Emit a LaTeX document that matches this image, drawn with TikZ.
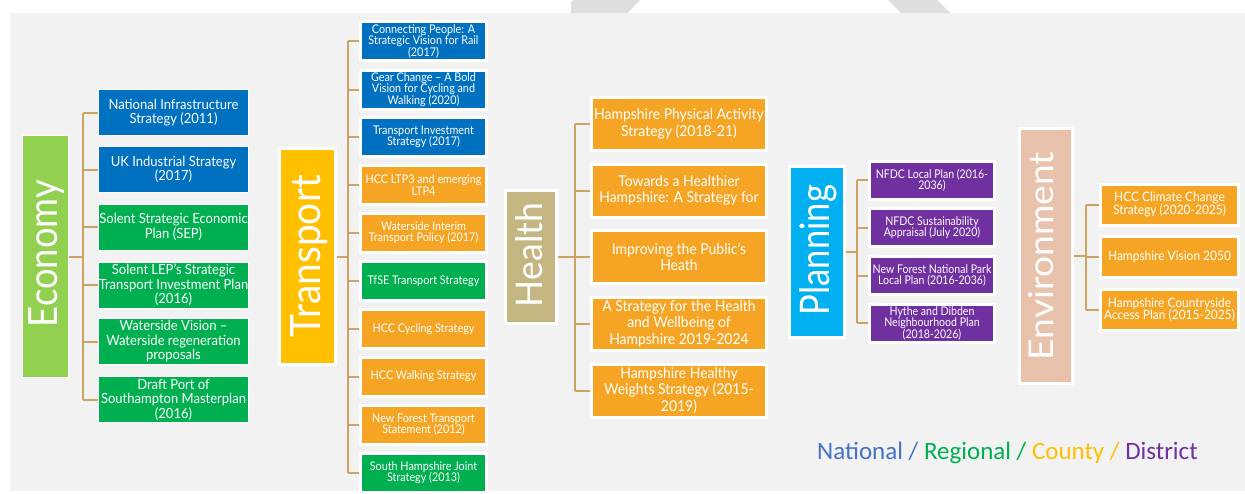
\documentclass[tikz,border=0pt]{standalone}
\usepackage{fontspec}
\setmainfont{Lato}
\newfontfamily\legfont{Carlito}
\newfontfamily\labfont{Lato}
\newfontfamily\fEco[FakeStretch=0.93]{Lato}
\newfontfamily\fTra[FakeStretch=0.9]{Lato}
\newfontfamily\fHea[FakeStretch=0.93]{Lato}
\newfontfamily\fPla[FakeStretch=0.88]{Lato}
\newfontfamily\fEnv[FakeStretch=0.92]{Lato}
\pgfdeclarelayer{back}
\pgfdeclarelayer{lines}
\pgfsetlayers{back,lines,main}
\definecolor{bgc}{RGB}{242,242,242}
\definecolor{markc}{RGB}{222,222,222}
\definecolor{natblue}{RGB}{0,112,192}
\definecolor{reggreen}{RGB}{0,176,80}
\definecolor{cntorange}{RGB}{245,165,35}
\definecolor{dispurple}{RGB}{112,48,160}
\definecolor{ecogreen}{RGB}{146,208,80}
\definecolor{trayellow}{RGB}{255,192,0}
\definecolor{heakhaki}{RGB}{196,182,128}
\definecolor{placyan}{RGB}{0,176,240}
\definecolor{envpeach}{RGB}{233,194,172}
\definecolor{connc}{RGB}{206,163,98}
\definecolor{legblue}{RGB}{68,114,196}
\definecolor{legyellow}{RGB}{255,192,0}
\tikzset{
  conn/.style={draw=connc, line width=2pt},
  labbox/.style={draw=white, line width=3pt, inner sep=0pt},
  ecolab/.style={draw=white, line width=1pt, inner sep=0pt},
  labtext/.style={text=white, inner sep=0pt, rotate=90, anchor=base, font=\labfont},
  ebox/.style={draw=white, line width=1pt, text=white, align=center, inner sep=0pt,
    minimum width=150pt, minimum height=46pt, font=\fEco\fontsize{14}{14.5}\selectfont},
  tbox/.style={draw=white, line width=3pt, text=white, align=center, inner sep=0pt,
    minimum width=126pt, minimum height=39pt, font=\fTra\fontsize{12}{11.5}\selectfont},
  hbox/.style={draw=white, line width=3pt, text=white, align=center, inner sep=0pt, fill=cntorange,
    minimum width=175pt, minimum height=53pt, font=\fHea\fontsize{15}{16.5}\selectfont},
  pbox/.style={draw=white, line width=3pt, text=white, align=center, inner sep=0pt, fill=dispurple,
    minimum width=125pt, minimum height=38pt, font=\fPla\fontsize{12}{11.5}\selectfont},
  vbox/.style={draw=white, line width=3pt, text=white, align=center, inner sep=0pt, fill=cntorange,
    minimum width=138pt, minimum height=41pt, font=\fEnv\fontsize{13}{12.5}\selectfont},
}
\begin{document}
\begin{tikzpicture}[x=1pt,y=-1pt]
\begin{pgfonlayer}{back}
\fill[white] (0,0) rectangle (1245,491);
\fill[bgc] (10,13) rectangle (1245,491);
\fill[markc, rounded corners=3pt] (571,13) -- (571,0) [sharp corners] -- (640,0) -- (627.5,13) -- cycle;
\fill[markc] (888,0) -- (937,0) -- (950,13) -- (901,13) -- cycle;
\end{pgfonlayer}

% Economy
\node[ecolab, fill=ecogreen, minimum width=46pt, minimum height=242pt] (econ) at (45.5,256.5) {};
\node[labtext] (econt) at (57,253.5) {\resizebox{147pt}{29pt}{Economy}};
\node[ebox, fill=natblue] (e1) at (173.5,112.5) {National Infrastructure\\Strategy (2011)};
\node[ebox, fill=natblue] (e2) at (173.5,169.5) {UK Industrial Strategy\\(2017)};
\node[ebox, fill=reggreen] (e3) at (173.5,227) {Solent Strategic Economic\\Plan (SEP)};
\node[ebox, fill=reggreen] (e4) at (173.5,285) {Solent LEP’s Strategic\\Transport Investment Plan\\(2016)};
\node[ebox, fill=reggreen] (e5) at (173.5,341.5) {Waterside Vision –\\Waterside regeneration\\proposals};
\node[ebox, fill=reggreen] (e6) at (173.5,399.5) {Draft Port of\\Southampton Masterplan\\(2016)};

% Transport
\node[labbox, fill=trayellow, minimum width=56pt, minimum height=216pt] (trans) at (307.5,256.5) {};
\node[labtext] (transt) at (320,256) {\resizebox{162pt}{30pt}{Transport}};
\node[tbox, fill=natblue] (t1) at (423.5,41) {Connecting People: A\\Strategic Vision for Rail\\(2017)};
\node[tbox, fill=natblue] (t2) at (423.5,89.5) {Gear Change – A Bold\\Vision for Cycling and\\Walking (2020)};
\node[tbox, fill=natblue] (t3) at (423.5,137) {Transport Investment\\Strategy (2017)};
\node[tbox, fill=cntorange] (t4) at (423.5,185) {HCC LTP3 and emerging\\LTP4};
\node[tbox, fill=cntorange] (t5) at (423.5,232.5) {Waterside Interim\\Transport Policy (2017)};
\node[tbox, fill=reggreen] (t6) at (423.5,281) {TfSE Transport Strategy};
\node[tbox, fill=cntorange] (t7) at (423.5,329) {HCC Cycling Strategy};
\node[tbox, fill=cntorange] (t8) at (423.5,376.5) {HCC Walking Strategy};
\node[tbox, fill=cntorange] (t9) at (423.5,424.5) {New Forest Transport\\Statement (2012)};
\node[tbox, fill=reggreen] (t10) at (423.5,472.5) {South Hampshire Joint\\Strategy (2013)};

% Health
\node[labbox, fill=heakhaki, minimum width=51pt, minimum height=133pt] (health) at (531,257) {};
\node[labtext] (healtht) at (542,255) {\resizebox{104pt}{27pt}{Health}};
\node[hbox] (h1) at (679,124) {Hampshire Physical Activity\\Strategy (2018-21)};
\node[hbox] (h2) at (679,190.5) {Towards a Healthier\\Hampshire: A Strategy for};
\node[hbox] (h3) at (679,257) {Improving the Public’s\\Heath};
\node[hbox] (h4) at (679,323.5) {A Strategy for the Health\\and Wellbeing of\\Hampshire 2019-2024};
\node[hbox] (h5) at (679,390.5) {Hampshire Healthy\\Weights Strategy (2015-\\2019)};

% Planning
\node[labbox, fill=placyan, minimum width=55pt, minimum height=171pt] (plan) at (817,252) {};
\node[labtext] (plant) at (829,250) {\resizebox{130pt}{30pt}{Planning}};
\node[pbox] (p1) at (932,180) {NFDC Local Plan (2016-\\2036)};
\node[pbox] (p2) at (932,227.5) {NFDC Sustainability\\Appraisal (July 2020)};
\node[pbox] (p3) at (932,275.5) {New Forest National Park\\Local Plan (2016-2036)};
\node[pbox] (p4) at (932,323) {Hythe and Dibden\\Neighbourhood Plan\\(2018-2026)};

% Environment
\node[labbox, fill=envpeach, minimum width=53pt, minimum height=255pt] (env) at (1046,256) {};
\node[labtext] (envt) at (1053,256) {\resizebox{208pt}{25pt}{Environment}};
\node[vbox] (v1) at (1169.5,204.5) {HCC Climate Change\\Strategy (2020-2025)};
\node[vbox] (v2) at (1169.5,257) {Hampshire Vision 2050};
\node[vbox] (v3) at (1169.5,309.5) {Hampshire Countryside\\Access Plan (2015-2025)};

% Legend
\node[anchor=base west, inner sep=0pt, font=\legfont\fontsize{25}{28}\selectfont] (legend) at (817,459)
  {\textcolor{legblue}{National /} \textcolor{reggreen}{Regional /} \textcolor{legyellow}{County /} \textcolor{dispurple}{District}};

% Connectors
\begin{pgfonlayer}{lines}
\coordinate (ej) at (83,256.5);
\draw[conn] (econ.east) -- (ej);
\draw[conn] (e1.west -| ej) -- (e6.west -| ej);
\foreach \i in {1,...,6} \draw[conn] (e\i.west -| ej) -- (e\i.west);
\coordinate (tj) at (348,256.5);
\draw[conn] (trans.east) -- (tj);
\draw[conn] (t1.west -| tj) -- (t10.west -| tj);
\foreach \i in {1,...,10} \draw[conn] (t\i.west -| tj) -- (t\i.west);
\coordinate (hj) at (575,257);
\draw[conn] (health.east) -- (hj);
\draw[conn] (h1.west -| hj) -- (h5.west -| hj);
\foreach \i in {1,...,5} \draw[conn] (h\i.west -| hj) -- (h\i.west);
\coordinate (pj) at (857,252);
\draw[conn] (plan.east) -- (pj);
\draw[conn] (p1.west -| pj) -- (p4.west -| pj);
\foreach \i in {1,...,4} \draw[conn] (p\i.west -| pj) -- (p\i.west);
\coordinate (vj) at (1086,256);
\draw[conn] (env.east |- vj) -- (vj);
\draw[conn] (v1.west -| vj) -- (v3.west -| vj);
\foreach \i in {1,...,3} \draw[conn] (v\i.west -| vj) -- (v\i.west);
\end{pgfonlayer}
\end{tikzpicture}
\end{document}
